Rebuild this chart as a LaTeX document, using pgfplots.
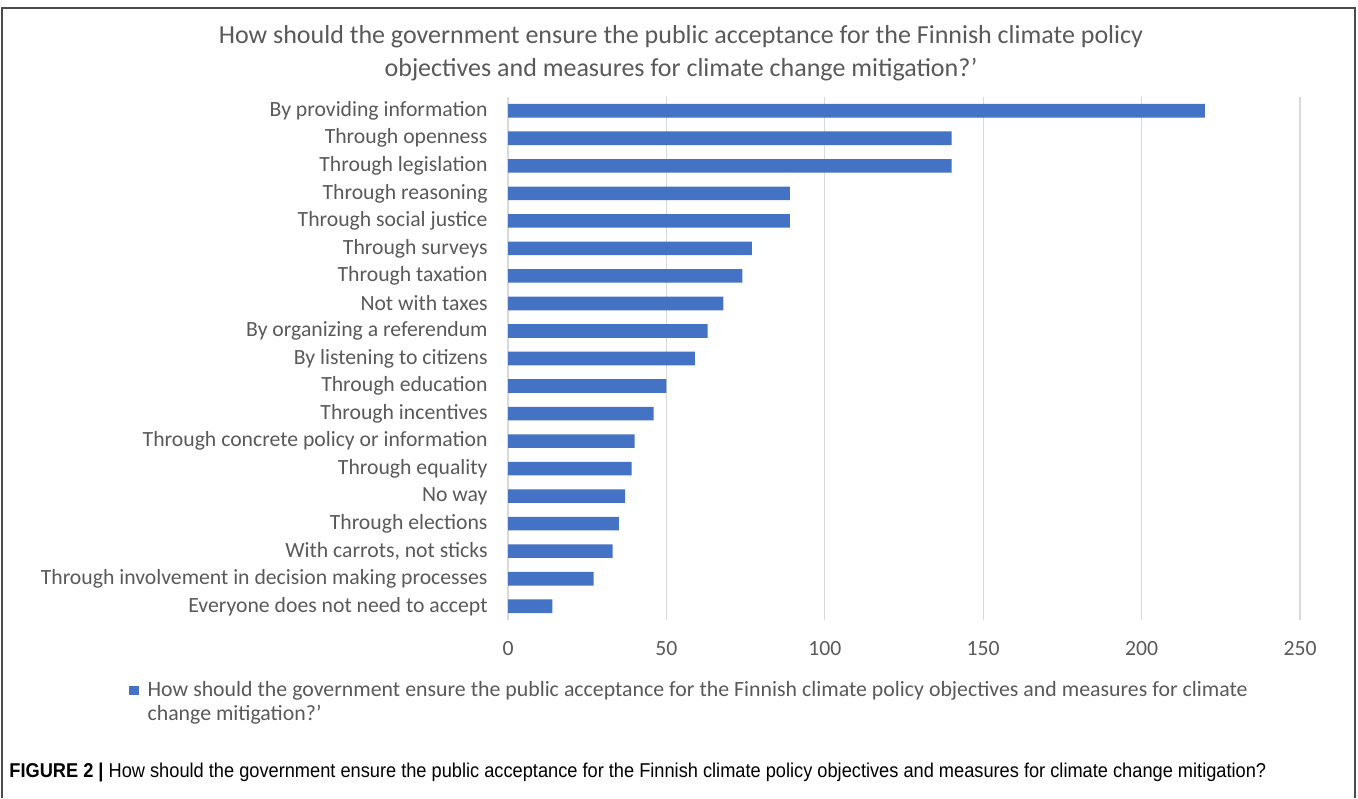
\documentclass[border=0pt]{standalone}
\usepackage{pgfplots}
\pgfplotsset{compat=1.18}
\usepackage{fontspec}
\setmainfont{Carlito}
\newfontfamily\capfont[FakeStretch=0.911]{Liberation Sans}
\definecolor{barblue}{HTML}{4472C4}
\definecolor{txtgray}{HTML}{595959}
\definecolor{gridgray}{HTML}{D9D9D9}
\begin{document}
\begin{tikzpicture}
\useasboundingbox (0pt,0pt) rectangle (679pt,399pt);
\draw[black!70, line width=0.8pt] (1pt,0pt) -- (1pt,395pt) -- (677.5pt,395pt) -- (677.5pt,0pt);
\node[align=center, text=txtgray, font=\fontsize{13}{16.5}\selectfont] at (340.5pt,372.3pt)
  {How should the government ensure the public acceptance for the Finnish climate policy\\objectives and measures for climate change mitigation?’};
\begin{axis}[
  at={(254pt,89pt)}, anchor=south west, scale only axis,
  width=396pt, height=261.5pt,
  xbar, bar width=6.8pt,
  xmin=0, xmax=250, ymin=0.5, ymax=19.5, y dir=reverse,
  xtick={0,50,100,150,200,250},
  ytick={1,...,19},
  yticklabels={By providing information, Through openness, Through legislation, Through reasoning, Through social justice, Through surveys, Through taxation, Not with taxes, By organizing a referendum, By listening to citizens, Through education, Through incentives, Through concrete policy or information, Through equality, No way, Through elections, {With carrots, not sticks}, Through involvement in decision making processes, Everyone does not need to accept},
  axis line style={draw=none},
  major tick length=0pt,
  xmajorgrids, grid style={gridgray, line width=0.6pt},
  tick label style={font=\fontsize{10.85}{12}\selectfont, text=txtgray},
  xticklabel style={yshift=-7pt},
  yticklabel style={xshift=-6.7pt},
  /pgf/number format/assume math mode=true,
  legend style={draw=none, at={(-0.4785,-0.109)}, anchor=north west,
    font=\fontsize{10.9}{12}\selectfont, text=txtgray, inner sep=0pt},
  legend cell align=left,
  legend image code/.code={\fill[barblue] (0pt,-2.3pt) rectangle (4.6pt,2.3pt);},
]
\addplot[fill=barblue, draw=none] coordinates {
(220,1) (140,2) (140,3) (89,4) (89,5) (77,6) (74,7) (68,8) (63,9) (59,10)
(50,11) (46,12) (40,13) (39,14) (37,15) (35,16) (33,17) (27,18) (14,19)};
\addlegendentry{\hspace{2.5pt}\parbox[t]{550pt}{How should the government ensure the public acceptance for the Finnish climate policy objectives and measures for climate change mitigation?’}}
\end{axis}
\node[anchor=base west, inner sep=0pt, font=\capfont\fontsize{10}{11}\selectfont] at (4.5pt,10.5pt)
  {\textbf{FIGURE 2 |} How should the government ensure the public acceptance for the Finnish climate policy objectives and measures for climate change mitigation?};
\end{tikzpicture}
\end{document}
